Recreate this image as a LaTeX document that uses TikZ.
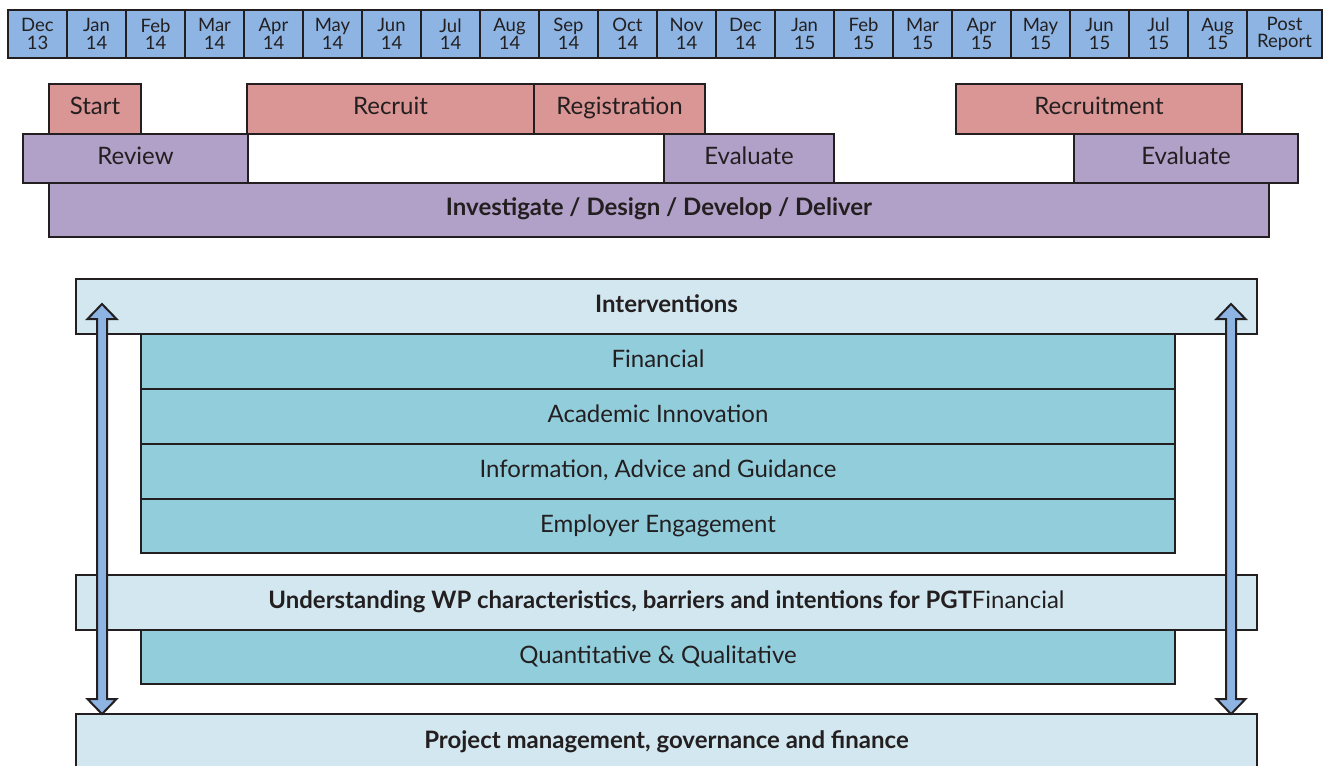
\documentclass[tikz,border=0pt]{standalone}
\usepackage{fontspec}
\setmainfont{Lato}
\usepackage{graphicx}
\definecolor{ink}{HTML}{231F20}
\definecolor{hdr}{HTML}{8DB4E2}
\definecolor{pinkc}{HTML}{DA9694}
\definecolor{purp}{HTML}{B1A0C7}
\definecolor{lblue}{HTML}{D2E7EF}
\definecolor{teal}{HTML}{92CDDC}
\begin{document}
\begin{tikzpicture}[x=1pt,y=-1pt,
  base/.style={draw=ink, line width=2pt, anchor=north west, inner sep=0pt, text=ink},
  month/.style={base, fill=hdr, minimum height=48pt, align=center, font=\fontsize{18.5}{17.5}\selectfont},
  pinkbar/.style={base, fill=pinkc, minimum height=50pt, text height=18pt, text depth=7pt, font=\fontsize{24}{28}\selectfont},
  purpbar/.style={base, fill=purp, minimum height=49pt, text height=18pt, text depth=7pt, font=\fontsize{24}{28}\selectfont},
  band/.style={base, fill=lblue, minimum width=1181pt, minimum height=55pt, text height=18pt, text depth=6pt, font=\bfseries\fontsize{24}{28}\selectfont},
  layer/.style={base, fill=teal, minimum width=1034pt, minimum height=55pt, text height=18pt, text depth=6pt, font=\fontsize{24}{28}\selectfont},
  arr/.style={draw=ink, fill=hdr, line width=2pt, line join=miter}]
\useasboundingbox (0,0) rectangle (1324,765);

% timeline header
\foreach \m/\y [count=\i from 0] in {Dec/13,Jan/14,Feb/14,Mar/14,Apr/14,May/14,Jun/14,Jul/14,Aug/14,Sep/14,Oct/14,Nov/14,Dec/14,Jan/15,Feb/15,Mar/15,Apr/15,May/15,Jun/15,Jul/15,Aug/15}
  \node[month, minimum width=59pt] (m\i) at ({7+59*\i},9) {\m\\\y};
\node[month, minimum width=75pt] (post) at (1246,9) {Post\\Report};

% gantt rows
\node[pinkbar, minimum width=92pt] (start) at (48,83) {Start};
\node[pinkbar, minimum width=287pt] (recruit) at (246,83) {Recruit};
\node[pinkbar, minimum width=171pt] (registration) at (533,83) {Registration};
\node[pinkbar, minimum width=286pt] (recruitment) at (955,83) {Recruitment};

\node[purpbar, minimum width=225pt] (review) at (22,133) {Review};
\node[purpbar, minimum width=170pt] (eval1) at (663,133) {Evaluate};
\node[purpbar, minimum width=224pt] (eval2) at (1073,133) {Evaluate};

\node[purpbar, minimum width=1220pt, minimum height=54pt, font=\bfseries\fontsize{24}{28}\selectfont] (idd) at (48,182) {Investigate / Design / Develop / Deliver};

% lower section
\node[band] (interventions) at (75,278) {Interventions};
\node[layer] (financial) at (140,333) {Financial};
\node[layer] (academic) at (140,388) {Academic Innovation};
\node[layer] (iag) at (140,443) {Information, Advice and Guidance};
\node[layer, minimum height=54pt] (employer) at (140,498) {Employer Engagement};

\node[band] (understanding) at (75,574) {\resizebox{796pt}{\height}{\textbf{Understanding WP characteristics, barriers and intentions for PGT}\mdseries Financial}};
\node[layer, minimum height=54pt] (quant) at (140,629) {Quantitative \& Qualitative};

\node[band, minimum height=56pt] (pm) at (75,713) {Project management, governance and finance};

% double arrows
\coordinate (lt) at (102,304);
\coordinate (rt) at (1231,304);
\draw[arr] (lt) -- ++(14.5,15) -- ++(-9.5,0) -- ++(0,380) -- ++(9.5,0) -- ++(-14.5,15) -- ++(-14.5,-15) -- ++(9.5,0) -- ++(0,-380) -- ++(-9.5,0) -- cycle;
\draw[arr] (rt) -- ++(14.5,15) -- ++(-9.5,0) -- ++(0,380) -- ++(9.5,0) -- ++(-14.5,15) -- ++(-14.5,-15) -- ++(9.5,0) -- ++(0,-380) -- ++(-9.5,0) -- cycle;
\end{tikzpicture}
\end{document}
